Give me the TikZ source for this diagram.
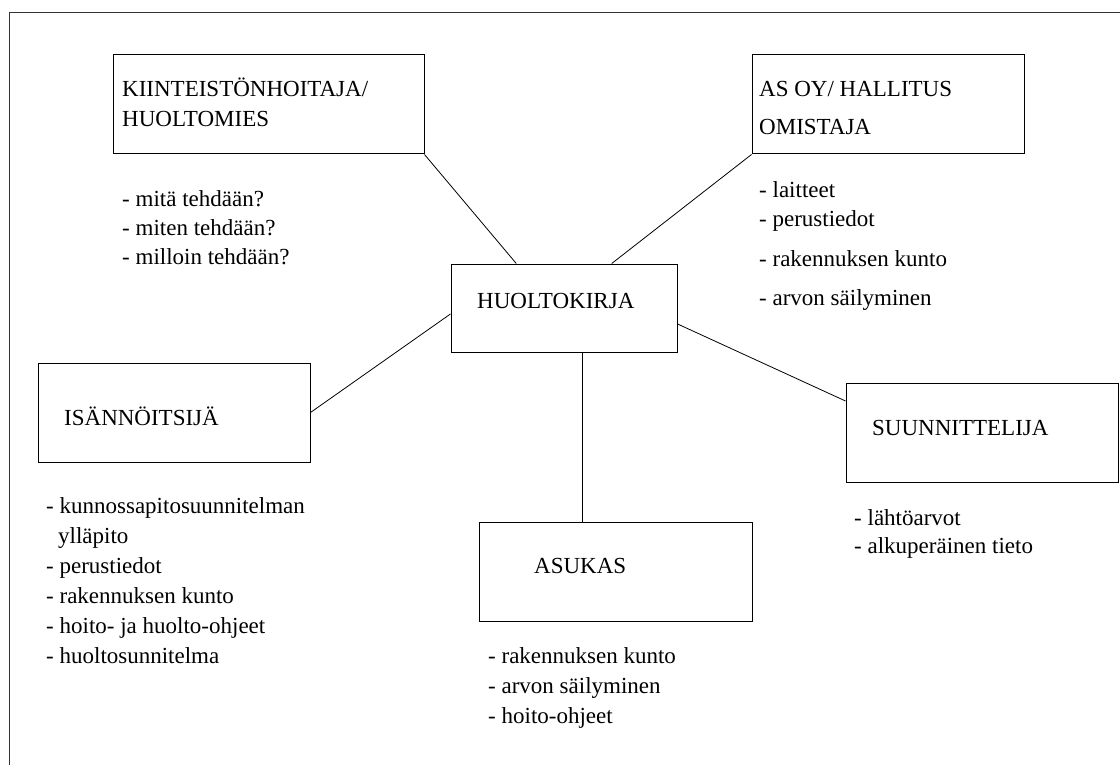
\documentclass[tikz,border=0pt]{standalone}
\usepackage{fontspec}
\setmainfont{Liberation Serif}
\usepackage{tikz}
\tikzstyle{box} = [rectangle, draw, line width=1pt, inner sep=0pt, minimum height=99pt]
\tikzstyle{txt} = [anchor=base west, inner sep=0pt, align=left, font=\fontsize{23}{29}\selectfont]
\tikzstyle{line} = [draw, line width=0.8pt]

\begin{document}
\begin{tikzpicture}[x=1pt, y=-1pt]
			\useasboundingbox (0,0) rectangle (1120,765);
			% kehys
			\coordinate (fa) at (9,765);
			\coordinate (fb) at (9,12);
			\coordinate (fc) at (1120,12);
			\path [line, black!80] (fa) -- (fb) -- (fc);

			\node [box, minimum width=311pt] (hoitaja) at (268.5,104.5) {};
			\node [box, minimum width=272pt] (hallitus) at (888,104.5) {};
			\node [box, minimum width=226pt, minimum height=88pt] (kirja) at (564,308) {};
			\node [box, minimum width=272pt] (isannoitsija) at (174,412.5) {};
			\node [box, minimum width=273pt] (asukas) at (615.5,571.5) {};
			\node [box, minimum width=272pt] (suunnittelija) at (982,432.5) {};

			% tekstit: base = viimeisen rivin perusviiva
			\node [txt] (hoitajaN) at (122,127) {KIINTEISTÖNHOITAJA/\\[1pt]HUOLTOMIES};
			\node [txt] (hallitusN) at (759,135) {AS OY/ HALLITUS\\[9pt]OMISTAJA};
			\node [txt] (kirjaN) at (477,308) {HUOLTOKIRJA};
			\node [txt] (isannoitsijaN) at (64,425) {ISÄNNÖITSIJÄ};
			\node [txt] (asukasN) at (534,573) {ASUKAS};
			\node [txt] (suunnittelijaN) at (872,435) {SUUNNITTELIJA};

			\node [txt] (hoitajaL) at (122,264) {- mitä tehdään?\\- miten tehdään?\\- milloin tehdään?};
			\node [txt] (hallitusL) at (759,305) {- laitteet\\- perustiedot\\[11pt]- rakennuksen kunto\\[10pt]- arvon säilyminen};
			\node [txt] (isannoitsijaL) at (46,663) {- kunnossapitosuunnitelman\\[1pt]\hspace*{12pt}ylläpito\\[1pt]- perustiedot\\[1pt]- rakennuksen kunto\\[1pt]- hoito- ja huolto-ohjeet\\[1pt]- huoltosunnitelma};
			\node [txt] (asukasL) at (488,723) {- rakennuksen kunto\\[1pt]- arvon säilyminen\\[1pt]- hoito-ohjeet};
			\node [txt] (suunnittelijaL) at (854,553) {- lähtöarvot\\[-1pt]- alkuperäinen tieto};

			\path [line] (hoitaja.south east) -- (kirja.137);
			\path [line] (hallitus.south west) -- (kirja.43);
			\path [line] (isannoitsija.east) -- (kirja.183);
			\path [line] (kirja.352) -- (suunnittelija.167);
			\path [line] (kirja.293) -- (kirja.293 |- asukas.north);
		\end{tikzpicture}
\end{document}
